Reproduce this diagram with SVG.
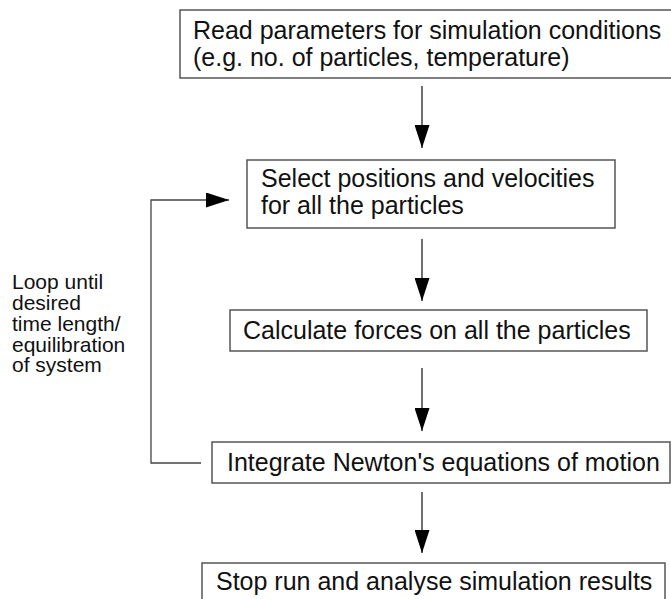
<svg xmlns="http://www.w3.org/2000/svg" width="671" height="599" viewBox="0 0 671 599">
<style>
.box{fill:#fff;stroke:#555;stroke-width:1.5}
.t{font-family:"Liberation Sans",Arial,sans-serif;font-size:25px;fill:#111}
.s{font-family:"Liberation Sans",Arial,sans-serif;font-size:21px;fill:#111}
.c{fill:none;stroke:#222;stroke-width:1.3}
.cl{fill:none;stroke:#444;stroke-width:1.3}
</style>
<defs>
<marker id="ah" markerWidth="23" markerHeight="15" refX="23" refY="7.5" orient="auto" markerUnits="userSpaceOnUse" viewBox="0 0 23 15">
<path d="M0,0 L23,7.5 L0,15 Z" fill="#000"/>
</marker>
</defs>
<rect width="671" height="599" fill="#fff"/>
<g id="n1">
<rect class="box" x="180" y="10" width="500" height="68"/>
<text class="t" x="193" y="39">Read parameters for simulation conditions</text>
<text class="t" x="193" y="66">(e.g. no. of particles, temperature)</text>
</g>
<g id="n2">
<rect class="box" x="247" y="160" width="368" height="68"/>
<text class="t" x="261" y="187">Select positions and velocities</text>
<text class="t" x="261" y="214">for all the particles</text>
</g>
<g id="n3">
<rect class="box" x="230" y="310" width="417" height="41"/>
<text class="t" x="243" y="339">Calculate forces on all the particles</text>
</g>
<g id="n4">
<rect class="box" x="212" y="442" width="458" height="41"/>
<text class="t" x="227" y="471">Integrate Newton's equations of motion</text>
</g>
<g id="n5">
<rect class="box" x="202" y="563" width="463" height="50"/>
<text class="t" x="216" y="590">Stop run and analyse simulation results</text>
</g>
<g id="label">
<text class="s" x="12" y="289">Loop until</text>
<text class="s" x="12" y="310">desired</text>
<text class="s" x="12" y="331">time length/</text>
<text class="s" x="12" y="352">equilibration</text>
<text class="s" x="12" y="372">of system</text>
</g>
<g id="connectors">
<line class="c" x1="422" y1="86" x2="422" y2="148" marker-end="url(#ah)"/>
<line class="c" x1="422" y1="239" x2="422" y2="301" marker-end="url(#ah)"/>
<line class="c" x1="422" y1="368" x2="422" y2="431" marker-end="url(#ah)"/>
<line class="c" x1="422" y1="492" x2="422" y2="553" marker-end="url(#ah)"/>
<polyline class="cl" points="201,463 151,463 151,200 229,200" marker-end="url(#ah)"/>
</g>
</svg>
